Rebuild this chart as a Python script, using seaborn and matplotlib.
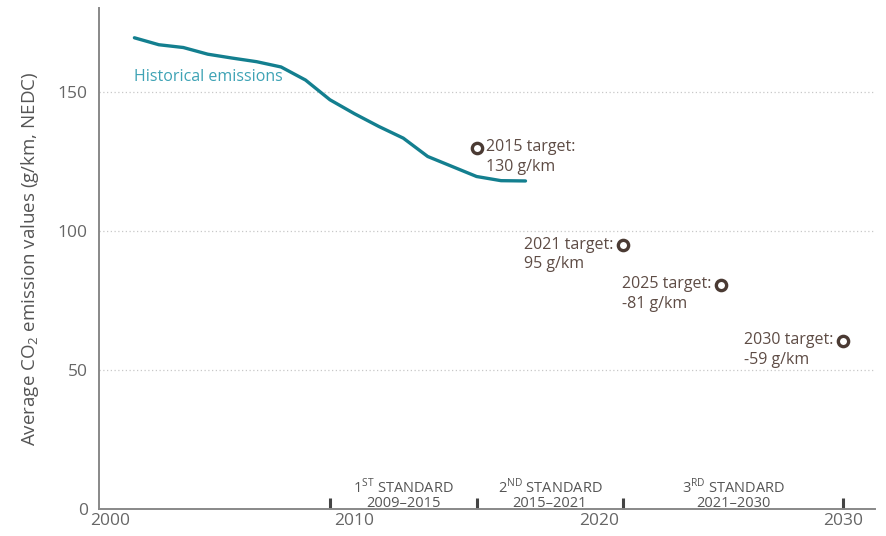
import pandas as pd
import numpy as np
import matplotlib.pyplot as plt
import seaborn as sns

# Data
hist_years = [2001, 2002, 2003, 2004, 2005, 2006, 2007, 2008, 2009,
              2010, 2011, 2012, 2013, 2014, 2015, 2016, 2017]
hist_values = [169.5, 167.0, 166.0, 163.6, 162.2, 160.9, 159.0, 154.3, 147.2,
               142.2, 137.6, 133.4, 126.8, 123.2, 119.6, 118.1, 118.0]

target_years = [2015, 2021, 2025, 2030]
target_values = [130, 95, 80.7, 60.6]
target_labels = ['2015 target:\n130 g/km', '2021 target:\n95 g/km',
                 '2025 target:\n-81 g/km', '2030 target:\n-59 g/km']

standard_bounds = [2009, 2015, 2021, 2030]
standard_labels = ['1$^{\\mathrm{ST}}$ STANDARD\n2009\u20132015',
                   '2$^{\\mathrm{ND}}$ STANDARD\n2015\u20132021',
                   '3$^{\\mathrm{RD}}$ STANDARD\n2021\u20132030']

x_ticks = [2000, 2010, 2020, 2030]
y_ticks = [0, 50, 100, 150]

LINE_COLOR = '#137f8f'
LABEL_TEAL = '#3ea3b5'
BROWN = '#4a3a33'
TEXT_BROWN = '#5e4c45'
GRAY = '#666666'

sns.set_style('white')
plt.rcParams['font.family'] = ['Open Sans', 'DejaVu Sans']
plt.rcParams['mathtext.fontset'] = 'custom'
plt.rcParams['mathtext.rm'] = 'Open Sans'

fig = plt.figure(figsize=(8.86, 5.36), dpi=100)
ax = fig.add_axes([0.1117, 0.0504, 0.8759, 0.9346])

hist_df = pd.DataFrame({'year': hist_years, 'value': hist_values})
target_df = pd.DataFrame({'year': target_years, 'value': target_values})

sns.lineplot(data=hist_df, x='year', y='value', color=LINE_COLOR, lw=2.4, ax=ax)
sns.scatterplot(data=target_df, x='year', y='value', marker='o', s=55,
                facecolor='white', edgecolor=BROWN, linewidth=2.4, zorder=5, ax=ax)

ax.set_xlim(1999.55, 2031.3)
ax.set_ylim(0, 180.2)

# gridlines
for y in y_ticks[1:]:
    ax.axhline(y, color='#c8c8c8', lw=0.9, ls=(0, (1, 2)), zorder=0)

ax.set_yticks(y_ticks)
ax.set_xticks(x_ticks)
ax.tick_params(axis='both', which='major', length=0, labelsize=12.5, labelcolor=GRAY)
ax.tick_params(axis='y', pad=8)
ax.tick_params(axis='x', pad=3)
ax.xaxis.remove_overlapping_locs = False
ax.set_xticks(standard_bounds, minor=True)
ax.tick_params(axis='x', which='minor', bottom=True, direction='in', length=8,
               width=2.2, color='#444444')

for s in ['top', 'right']:
    ax.spines[s].set_visible(False)
for s in ['left', 'bottom']:
    ax.spines[s].set_color('#888888')
    ax.spines[s].set_linewidth(1.4)

ax.set_xlabel('')
ax.set_ylabel('Average CO$_2$ emission values (g/km, NEDC)', fontsize=13.5,
              color='#555555', labelpad=12)

ax.text(2001, 155.5, 'Historical emissions', color=LABEL_TEAL, fontsize=11.5,
        va='center', ha='left')

# target annotations
for i, (x, y, lab) in enumerate(zip(target_years, target_values, target_labels)):
    if i == 0:
        ax.annotate(lab, (x, y), xytext=(7, 6), textcoords='offset points',
                    ha='left', va='top', fontsize=11.5, color=TEXT_BROWN,
                    multialignment='left', linespacing=1.3)
    else:
        ax.annotate(lab, (x, y), xytext=(-7, 6), textcoords='offset points',
                    ha='right', va='top', fontsize=11.5, color=TEXT_BROWN,
                    multialignment='left', linespacing=1.3)

# standard period labels
for a, b, lab in zip(standard_bounds[:-1], standard_bounds[1:], standard_labels):
    ax.text((a + b) / 2, -0.9, lab, ha='center', va='bottom', fontsize=10.5,
            color='#555555', linespacing=0.95)

fig.savefig('out.png', dpi=100)
